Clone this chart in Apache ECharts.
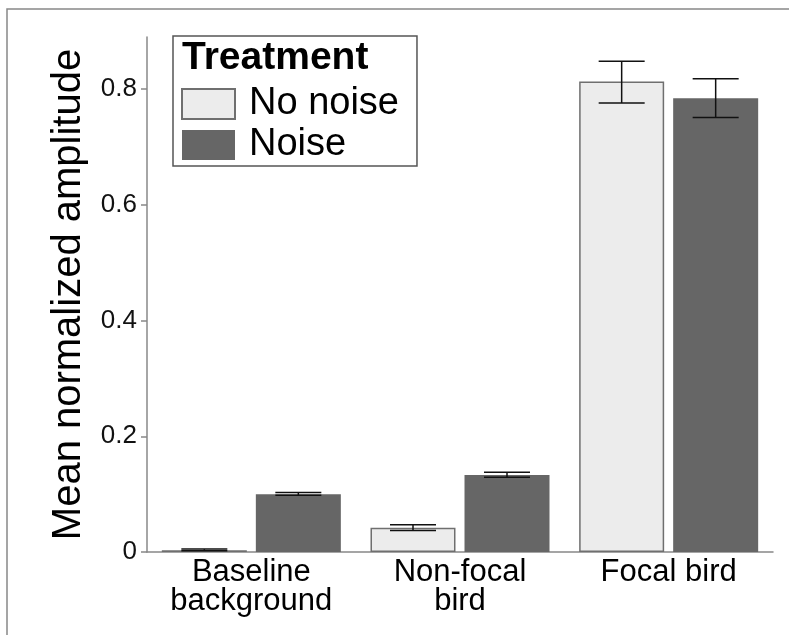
<!DOCTYPE html>
<html>
<head>
<meta charset="utf-8">
<script src="https://cdn.jsdelivr.net/npm/echarts@6/dist/echarts.min.js"></script>
<style>
  html, body { margin: 0; padding: 0; background: #fff; }
  #chart { width: 789px; height: 635px; }
</style>
</head>
<body>
<div id="chart"></div>
<script>
  const categories = ['Baseline\nbackground', 'Non-focal\nbird', 'Focal bird'];
  const seriesNames = ['No noise', 'Noise'];
  const noNoiseMean = [0.003, 0.042, 0.813];
  const noNoiseLow = [0.002, 0.037, 0.776];
  const noNoiseHigh = [0.005, 0.047, 0.848];
  const noiseMean = [0.1, 0.133, 0.784];
  const noiseLow = [0.098, 0.129, 0.751];
  const noiseHigh = [0.103, 0.138, 0.818];
  const yTicks = [0, 0.2, 0.4, 0.6, 0.8];

  const FONT = '"Liberation Sans", Arial, sans-serif';
  const BAR_W = 85;
  const BAR_GAP = 9;

  function errorBars(offsetSign) {
    return function (params, api) {
      const x = api.value(0);
      const lo = api.coord([x, api.value(1)]);
      const hi = api.coord([x, api.value(2)]);
      const cx = lo[0] + offsetSign * (BAR_W + BAR_GAP) / 2;
      const half = 23;
      const style = { stroke: '#111', lineWidth: 1.5 };
      return {
        type: 'group',
        children: [
          { type: 'line', shape: { x1: cx, y1: lo[1], x2: cx, y2: hi[1] }, style },
          { type: 'line', shape: { x1: cx - half, y1: lo[1], x2: cx + half, y2: lo[1] }, style },
          { type: 'line', shape: { x1: cx - half, y1: hi[1], x2: cx + half, y2: hi[1] }, style },
        ],
      };
    };
  }

  const myChart = echarts.init(document.getElementById('chart'));
  myChart.setOption({
    animation: false,
    backgroundColor: '#fff',
    textStyle: { fontFamily: FONT },
    graphic: [
      {
        type: 'polyline',
        shape: { points: [[7, 700], [7, 9], [800, 9]] },
        style: { stroke: '#888', lineWidth: 1.5, fill: null },
        z: 0,
      },
      {
        type: 'text',
        left: 182,
        top: 39,
        style: {
          text: 'Treatment',
          fontFamily: FONT,
          fontWeight: 'bold',
          fontSize: 39,
          fill: '#000',
        },
        z: 10,
      },
    ],
    legend: {
      data: seriesNames,
      orient: 'vertical',
      left: 173,
      top: 36,
      padding: [49, 18, 2, 8],
      borderColor: '#555',
      borderWidth: 1.5,
      itemWidth: 53,
      itemHeight: 30,
      itemGap: 3,
      icon: 'rect',
      textStyle: {
        fontFamily: FONT,
        fontSize: 38,
        color: '#000',
        lineHeight: 30,
        padding: [0, 0, 0, 9],
      },
    },
    grid: { left: 147, right: 16, top: 37, bottom: 83 },
    xAxis: {
      type: 'category',
      data: categories,
      axisLine: { lineStyle: { color: '#888', width: 1.5 } },
      axisTick: { show: false },
      axisLabel: {
        fontFamily: FONT,
        fontSize: 31,
        lineHeight: 29,
        color: '#000',
        margin: 6,
        interval: 0,
      },
    },
    yAxis: {
      type: 'value',
      min: 0,
      max: 0.89,
      interval: 0.2,
      name: 'Mean normalized amplitude',
      nameLocation: 'middle',
      nameGap: 58,
      nameTextStyle: { fontFamily: FONT, fontSize: 40, color: '#000' },
      splitLine: { show: false },
      axisLine: { show: true, lineStyle: { color: '#888', width: 1.5 } },
      axisTick: { show: true, length: 6, lineStyle: { color: '#888', width: 1.5 } },
      axisLabel: {
        fontFamily: FONT,
        fontSize: 26,
        color: '#111',
        margin: 10,
        showMaxLabel: false,
        formatter: (v) => {
          const t = yTicks.find((k) => Math.abs(k - v) < 1e-9);
          return t === undefined ? '' : (t === 0 ? '0' : t.toFixed(1));
        },
      },
    },
    series: [
      {
        name: 'No noise',
        type: 'bar',
        data: noNoiseMean,
        barWidth: BAR_W,
        barGap: (BAR_GAP / BAR_W * 100).toFixed(1) + '%',
        itemStyle: { color: '#ececec', borderColor: '#6f6f6f', borderWidth: 1.5 },
      },
      {
        name: 'Noise',
        type: 'bar',
        data: noiseMean,
        barWidth: BAR_W,
        itemStyle: { color: '#666666' },
      },
      {
        type: 'custom',
        renderItem: errorBars(-1),
        data: categories.map((c, i) => [i, noNoiseLow[i], noNoiseHigh[i]]),
        z: 5,
      },
      {
        type: 'custom',
        renderItem: errorBars(1),
        data: categories.map((c, i) => [i, noiseLow[i], noiseHigh[i]]),
        z: 5,
      },
    ],
  });
</script>
</body>
</html>
